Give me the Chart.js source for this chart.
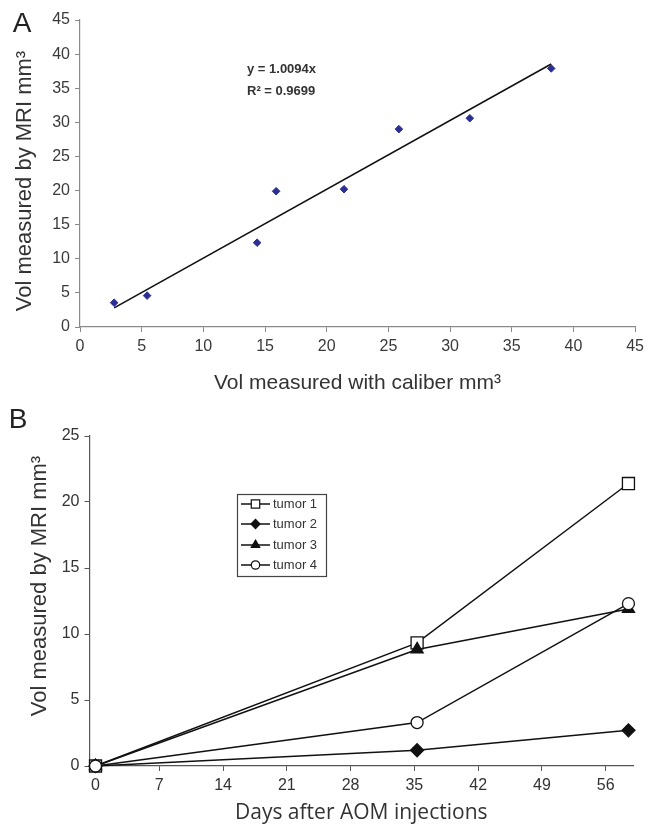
<!DOCTYPE html>
<html>
<head>
<meta charset="utf-8">
<script src="https://cdn.jsdelivr.net/npm/chart.js@4.4.1/dist/chart.umd.min.js"></script>
<style>
  html, body { margin: 0; padding: 0; background: #ffffff; }
  #wrap { position: relative; width: 649px; height: 829px; overflow: hidden; }
  canvas { position: absolute; left: 0; }
  #cA { top: 0; }
  #cB { top: 400px; }
</style>
</head>
<body>
<div id="wrap">
  <canvas id="cA" width="649" height="400"></canvas>
  <canvas id="cB" width="649" height="429"></canvas>
</div>
<script>
// ---------- Panel A data ----------
const caliberVol = [2.77, 5.44, 14.36, 15.9, 21.4, 25.85, 31.6, 38.2];
const mriVol     = [3.56, 4.6, 12.36, 19.9, 20.2, 29.0, 30.6, 37.9];
const trendX     = [2.77, 38.2];
const trendY     = [2.8, 38.56];
const ticksA_x   = [0, 5, 10, 15, 20, 25, 30, 35, 40, 45];
const ticksA_y   = [0, 5, 10, 15, 20, 25, 30, 35, 40, 45];
const equationText = 'y = 1.0094x';
const r2Text       = 'R\u00B2 = 0.9699';
const titleA_x = 'Vol measured with caliber mm\u00B3';
const titleA_y = 'Vol measured by MRI mm\u00B3';

// ---------- Panel B data ----------
const days    = [0, 35.3, 58.5];
const tumor1  = [0, 9.33, 21.4];
const tumor2  = [0, 1.19, 2.7];
const tumor3  = [0, 8.83, 11.9];
const tumor4  = [0, 3.29, 12.3];
const seriesNames = ['tumor 1', 'tumor 2', 'tumor 3', 'tumor 4'];
const ticksB_x = [0, 7, 14, 21, 28, 35, 42, 49, 56];
const ticksB_y = [0, 5, 10, 15, 20, 25];
const titleB_x = 'Days after AOM injections';
const titleB_y = 'Vol measured by MRI mm\u00B3';

const SANS = "'Liberation Sans', Arial, Helvetica, sans-serif";
const SANS2 = "'Open Sans', 'Noto Sans', sans-serif";

function pts(xs, ys) { return xs.map((x, i) => ({ x: x, y: ys[i] })); }
function fixTicks(list) {
  return function (scale) { scale.ticks = list.map(v => ({ value: v })); };
}
function textPlugin(id, drawFn) {
  return { id: id, afterDraw(chart) { const ctx = chart.ctx; ctx.save(); drawFn(chart, ctx); ctx.restore(); } };
}
function drawVertical(ctx, text, x, y, font, color) {
  ctx.save();
  ctx.translate(x, y);
  ctx.rotate(-Math.PI / 2);
  ctx.font = font;
  ctx.fillStyle = color;
  ctx.textAlign = 'center';
  ctx.textBaseline = 'middle';
  ctx.fillText(text, 0, 0);
  ctx.restore();
}

// ---------------- Chart A ----------------
new Chart(document.getElementById('cA'), {
  type: 'scatter',
  data: {
    datasets: [
      {
        label: 'MRI vs caliber',
        data: pts(caliberVol, mriVol),
        pointStyle: 'rectRot',
        pointRadius: 3.8,
        backgroundColor: '#2b2f92',
        borderColor: '#2b2f92',
        borderWidth: 1,
        showLine: false,
        clip: false,
        order: 0
      },
      {
        label: 'trend',
        type: 'line',
        data: pts(trendX, trendY),
        borderColor: '#111111',
        borderWidth: 1.6,
        pointRadius: 0,
        fill: false,
        tension: 0,
        clip: false,
        order: 1
      }
    ]
  },
  options: {
    responsive: false,
    animation: false,
    events: [],
    layout: { padding: { left: 0, top: 20, right: 9, bottom: 0 } },
    plugins: { legend: { display: false }, tooltip: { enabled: false } },
    scales: {
      x: {
        type: 'linear', min: 0, max: 45,
        afterBuildTicks: fixTicks(ticksA_x),
        afterFit(s) { s.height = 73; },
        grid: { drawOnChartArea: false, drawTicks: true, tickLength: 5, color: '#8a8a8a', lineWidth: 1 },
        border: { display: true, color: '#8a8a8a', width: 1.2 },
        ticks: { font: { family: SANS, size: 16 }, color: '#3a3a3a', padding: 5, maxRotation: 0 },
        title: { display: true, text: titleA_x, font: { family: SANS, size: 21 }, color: '#333333', padding: { top: 0, bottom: 4 } }
      },
      y: {
        type: 'linear', min: 0, max: 45,
        afterBuildTicks: fixTicks(ticksA_y),
        afterFit(s) { s.width = 80; },
        grid: { drawOnChartArea: false, drawTicks: true, tickLength: 5, color: '#8a8a8a', lineWidth: 1 },
        border: { display: true, color: '#8a8a8a', width: 1.2 },
        ticks: { font: { family: SANS, size: 16 }, color: '#3a3a3a', padding: 5 },
        title: { display: false, text: titleA_y }
      }
    }
  },
  plugins: [textPlugin('annA', (chart, ctx) => {
    ctx.fillStyle = '#222222';
    ctx.font = '28px ' + SANS;
    ctx.textAlign = 'center';
    ctx.textBaseline = 'middle';
    ctx.fillText('A', 22, 24);
    drawVertical(ctx, titleA_y, 25, 181, '22px ' + SANS, '#333333');
    ctx.font = 'bold 13px ' + SANS;
    ctx.textAlign = 'left';
    ctx.textBaseline = 'middle';
    ctx.fillStyle = '#333333';
    ctx.fillText(equationText, 247, 69);
    ctx.fillText(r2Text, 247, 91);
  })]
});

// ---------------- Chart B ----------------
const styleB = [
  { pointStyle: 'rect',    pointRadius: 8.5, backgroundColor: '#ffffff', order: 2 },
  { pointStyle: 'rectRot', pointRadius: 6.5, backgroundColor: '#111111', order: 3 },
  { pointStyle: 'triangle',pointRadius: 7,   backgroundColor: '#111111', order: 1 },
  { pointStyle: 'circle',  pointRadius: 6,   backgroundColor: '#ffffff', order: 0 }
];
const seriesB = [tumor1, tumor2, tumor3, tumor4];

new Chart(document.getElementById('cB'), {
  type: 'line',
  data: {
    datasets: seriesB.map((s, i) => ({
      label: seriesNames[i],
      data: pts(days, s),
      borderColor: '#111111',
      borderWidth: 1.5,
      pointBorderColor: '#111111',
      pointBorderWidth: 1.3,
      pointStyle: styleB[i].pointStyle,
      pointRadius: styleB[i].pointRadius,
      pointBackgroundColor: styleB[i].backgroundColor,
      backgroundColor: styleB[i].backgroundColor,
      fill: false,
      tension: 0,
      clip: false,
      order: styleB[i].order
    }))
  },
  options: {
    responsive: false,
    animation: false,
    events: [],
    layout: { padding: { left: 0, top: 36, right: 16, bottom: 0 } },
    plugins: { legend: { display: false }, tooltip: { enabled: false } },
    scales: {
      x: {
        type: 'linear', min: -0.66, max: 59,
        afterBuildTicks: fixTicks(ticksB_x),
        afterFit(s) { s.height = 63; },
        grid: { drawOnChartArea: false, drawTicks: true, tickLength: 5, color: '#555555', lineWidth: 1 },
        border: { display: true, color: '#555555', width: 1.2 },
        ticks: { font: { family: SANS, size: 16 }, color: '#333333', padding: 5, maxRotation: 0 },
        title: { display: true, text: titleB_x, font: { family: SANS2, size: 21 }, color: '#333333', padding: { top: 0, bottom: 3 } }
      },
      y: {
        type: 'linear', min: 0, max: 25,
        afterBuildTicks: fixTicks(ticksB_y),
        afterFit(s) { s.width = 89.5; },
        grid: { drawOnChartArea: false, drawTicks: true, tickLength: 5, color: '#555555', lineWidth: 1 },
        border: { display: true, color: '#555555', width: 1.2 },
        ticks: { font: { family: SANS, size: 16 }, color: '#333333', padding: 5 },
        title: { display: false, text: titleB_y }
      }
    }
  },
  plugins: [textPlugin('annB', (chart, ctx) => {
    ctx.fillStyle = '#222222';
    ctx.font = '28px ' + SANS;
    ctx.textAlign = 'center';
    ctx.textBaseline = 'middle';
    ctx.fillText('B', 18, 20);
    drawVertical(ctx, titleB_y, 39.5, 186, '22px ' + SANS, '#333333');
    // legend box
    const bx = 237, by = 94, bw = 89, bh = 82;
    ctx.fillStyle = '#ffffff';
    ctx.fillRect(bx, by, bw, bh);
    ctx.strokeStyle = '#444444';
    ctx.lineWidth = 1.2;
    ctx.strokeRect(bx + 0.5, by + 0.5, bw, bh);
    const rows = [104, 124, 145, 165];
    chart.data.datasets.forEach((ds, i) => {
      const y = rows[i];
      ctx.strokeStyle = '#111111';
      ctx.lineWidth = 1.5;
      ctx.beginPath();
      ctx.moveTo(241, y);
      ctx.lineTo(270, y);
      ctx.stroke();
      ctx.fillStyle = ds.pointBackgroundColor;
      ctx.strokeStyle = '#111111';
      ctx.lineWidth = 1.2;
      Chart.helpers.drawPoint(ctx, { pointStyle: ds.pointStyle, radius: ds.pointRadius * 0.7, rotation: 0, borderWidth: 1.2 }, 255.5, y);
      ctx.fillStyle = '#333333';
      ctx.font = '13px ' + SANS;
      ctx.textAlign = 'left';
      ctx.textBaseline = 'middle';
      ctx.fillText(ds.label, 273, y + 0.5);
    });
  })]
});
</script>
</body>
</html>
